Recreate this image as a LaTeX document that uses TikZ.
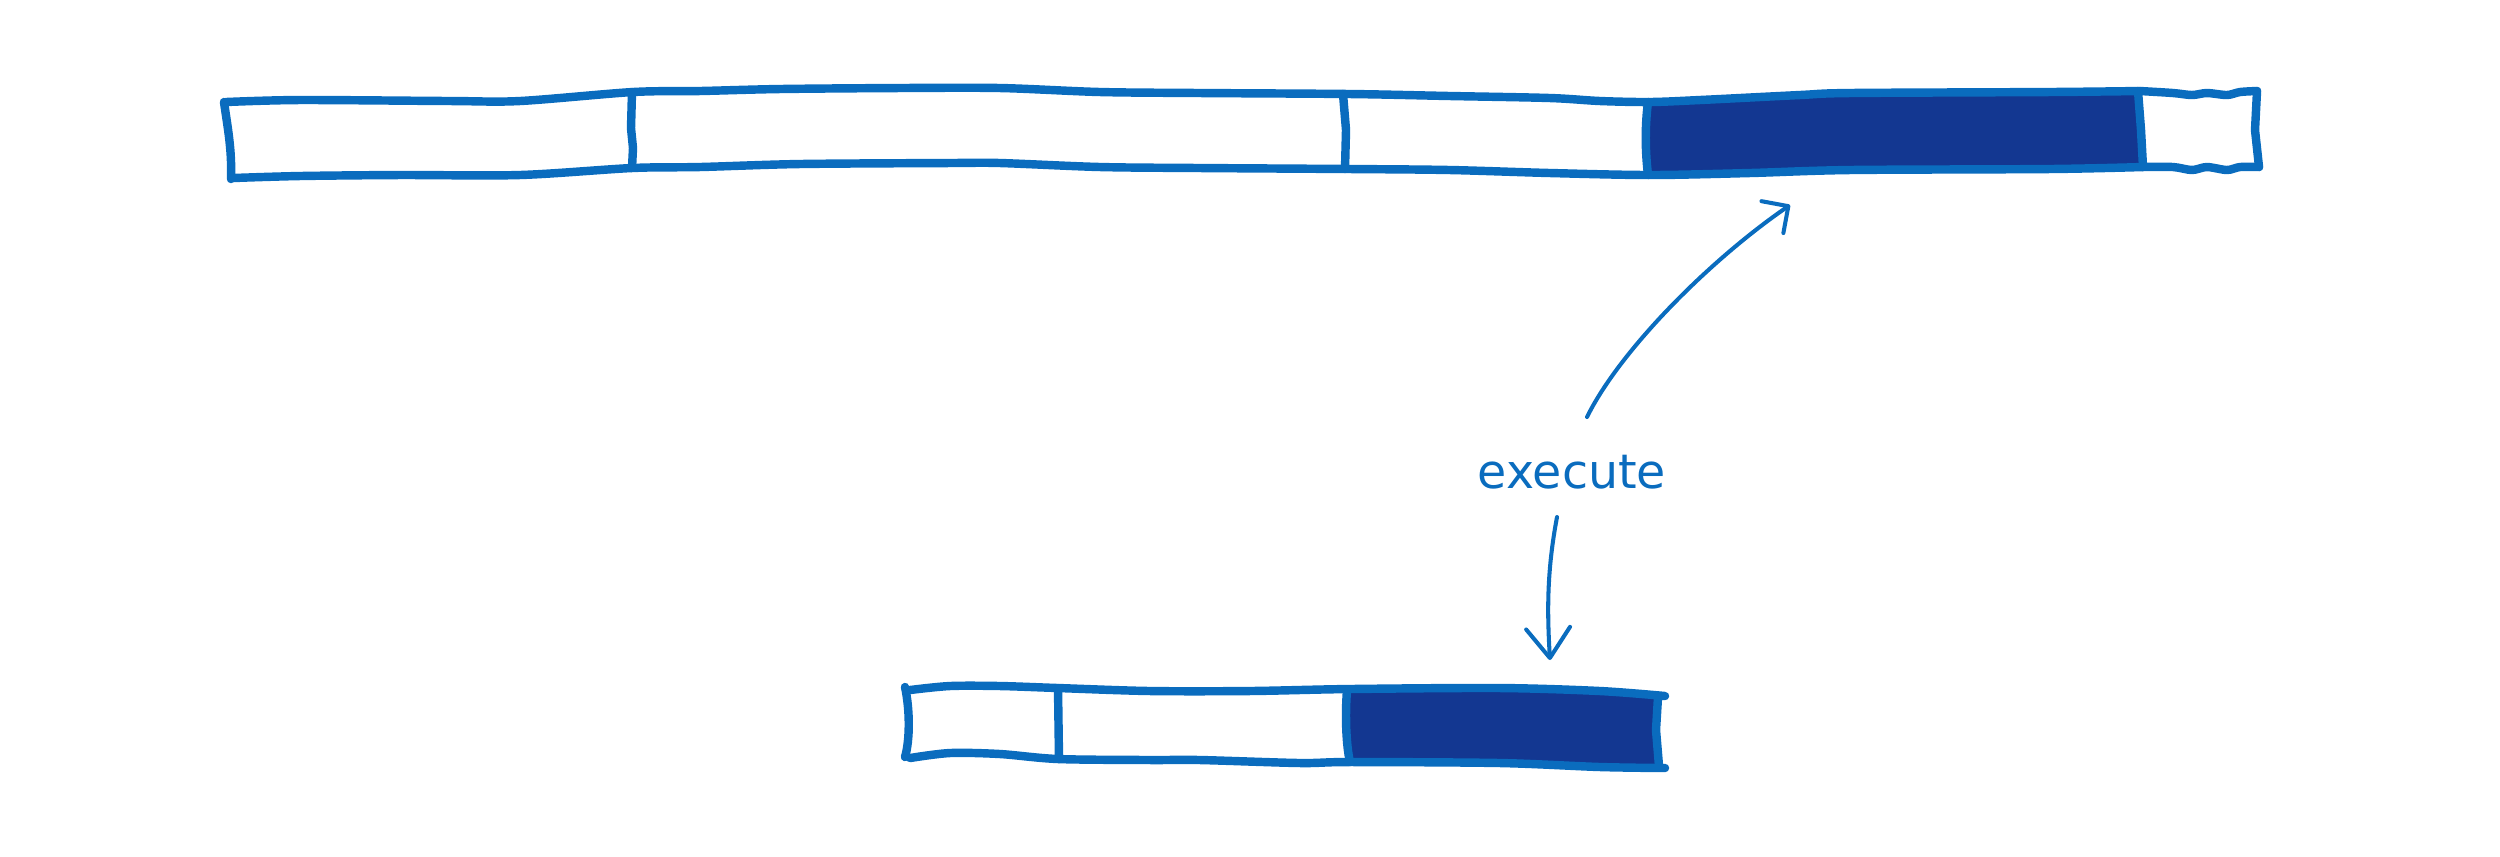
\documentclass[tikz,border=0pt]{standalone}
\usepackage{fontspec}
\usepackage{tikz}
\usetikzlibrary{arrows.meta,positioning,calc}
\newfontfamily\handfont{DejaVu Sans}
\definecolor{cstroke}{RGB}{10,108,190}
\definecolor{cdone}{RGB}{19,55,145}

\begin{document}
\begin{tikzpicture}[x=0.01cm,y=-0.01cm,
  bar/.style={draw=cstroke,line width=2.4pt,line cap=round,line join=round},
  arr/.style={draw=cstroke,line width=1.15pt,line cap=round},
  lbl/.style={text=cstroke,font=\handfont\fontsize{13.5}{16}\selectfont,inner sep=0pt,anchor=base}]
\useasboundingbox (0,0) rectangle (2500,856);
% long bar
\fill[cdone] plot[smooth] coordinates {(1648,102) (1700,100) (1800,95) (1850,93) (2050,92) (2140,91)}
  -- plot[smooth] coordinates {(2143,167) (2050,169) (1850,170) (1750,173) (1650,175)} -- cycle;
\draw[bar] plot[smooth] coordinates {(226,102) (300,100) (450,101) (520,101) (633,92) (700,91) (780,89) (900,88) (1000,88) (1100,92) (1200,93) (1350,94) (1450,96) (1550,98) (1600,101) (1650,102) (1700,100) (1800,95) (1850,93) (2050,92) (2140,91)};
\draw[bar] plot[smooth] coordinates {(2140,91) (2173,93) (2192,95) (2207,93) (2227,95) (2240,92) (2257,91)};
\draw[bar] plot[smooth] coordinates {(233,178) (300,176) (400,175) (520,175) (632,168) (700,167) (800,164) (950,163) (1000,163) (1100,167) (1200,168) (1350,169) (1450,170) (1550,173) (1650,175) (1750,173) (1850,170) (2050,169) (2143,167)};
\draw[bar] plot[smooth] coordinates {(2143,167) (2173,167) (2192,170) (2207,167) (2227,170) (2240,167) (2259,167)};
\draw[bar] (224,102) .. controls (228,130) and (232,150) .. (231,179);
\draw[bar] (632,92) -- (631,128) -- (633,148) -- (632,168);
\draw[bar] (1343,94) -- (1346,130) -- (1345,169);
\draw[bar] (1648,102) .. controls (1645,125) and (1645,150) .. (1648,175);
\draw[bar] (2138,91) -- (2141,130) -- (2143,167);
\draw[bar] (2257,91) -- (2255,130) -- (2259,167);
% small bar
\fill[cdone] plot[smooth] coordinates {(1347,690) (1500,688) (1600,691) (1658,696)}
  -- plot[smooth] coordinates {(1658,766) (1600,767) (1500,763) (1350,762)} -- cycle;
\draw[bar] plot[smooth] coordinates {(910,690) (950,686) (1000,686) (1058,688) (1150,691) (1250,691) (1350,689) (1500,688) (1600,691) (1665,696)};
\draw[bar] plot[smooth] coordinates {(910,758) (950,753) (1000,754) (1058,759) (1150,760) (1200,760) (1300,763) (1350,762) (1500,763) (1600,767) (1665,768)};
\draw[bar] (905,687) .. controls (910,710) and (910,740) .. (905,757);
\draw[bar] (1058,688) -- (1059,759);
\draw[bar] (1347,690) .. controls (1345,715) and (1346,745) .. (1350,762);
\draw[bar] (1658,697) -- (1656,730) -- (1659,766);
% label and arrows
\node[lbl] (exec) at (1572,488) {execute};
\coordinate (uptip) at (1790,205);
\coordinate (downtip) at (1550,660);
\draw[arr,-{Straight Barb[length=5.5pt,width=11pt,round]}] ([shift={(15,-71)}]exec.base) .. controls (1620,350) and (1710,260) .. (uptip);
\draw[arr,-{Straight Barb[length=8.5pt,width=12.5pt,round]}] ([shift={(-15,29)}]exec.base) .. controls (1547,570) and (1547,610) .. (downtip);
\end{tikzpicture}
\end{document}
